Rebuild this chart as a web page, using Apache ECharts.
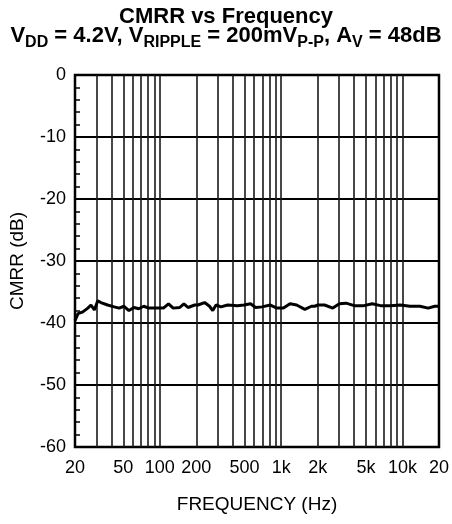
<!DOCTYPE html>
<html>
<head>
<meta charset="utf-8">
<script src="https://cdn.jsdelivr.net/npm/echarts@6/dist/echarts.min.js"></script>
<style>
html,body{margin:0;padding:0;background:#fff;}
#chart{width:452px;height:524px;}
</style>
</head>
<body>
<div id="chart"></div>
<script>
// Measured curve: frequency (Hz) and CMRR (dB)
var freqHz = [20, 21.2, 23.2, 25.5, 27.1, 28.9, 30.8, 32.7, 37.1, 42.1, 46.2, 50.7, 55.7, 61.2, 67.1, 73.7, 81, 91.6,
  107, 118, 129, 146, 158, 171, 182, 194, 206, 234, 257, 273, 291, 319, 362, 437, 494, 560, 615, 697, 815, 923,
  1045, 1184, 1342, 1568, 1778, 1890, 2011, 2280, 2664, 3020, 3424, 4000, 4820, 5632, 6592, 7944, 9580,
  11560, 13940, 16280, 18460, 20000];
var cmrrDb = [-39.6, -38.5, -38.2, -37.6, -37.1, -37.9, -36.4, -36.7, -37.1, -37.4, -37.6, -37.3, -38.0, -37.5, -37.7, -37.3, -37.6, -37.6,
  -37.6, -36.9, -37.6, -37.5, -36.9, -37.5, -37.3, -37.1, -37.1, -36.7, -37.3, -38.0, -37.1, -37.4, -37.1, -37.2, -37.1, -36.9, -37.5, -37.4, -37.1, -37.6,
  -37.6, -36.9, -37.1, -37.8, -37.3, -37.3, -37.1, -37.1, -37.6, -36.9, -36.8, -37.2, -37.2, -36.9, -37.2, -37.2, -37.1,
  -37.3, -37.3, -37.6, -37.3, -37.3];

// Axis ticks
var xTickValues = [20, 50, 100, 200, 500, 1000, 2000, 5000, 10000, 20000];
var xTickLabels = ['20', '50', '100', '200', '500', '1k', '2k', '5k', '10k', '20'];
var xGridValues = [30, 40, 50, 60, 70, 80, 90, 100, 200, 300, 400, 500, 600, 700, 800, 900, 1000,
  2000, 3000, 4000, 5000, 6000, 7000, 8000, 9000, 10000];
var yMin = -60, yMax = 0, yStep = 10;

var FONT = '"Liberation Sans", Arial, Helvetica, sans-serif';

var chart = echarts.init(document.getElementById('chart'), null, {renderer: 'canvas'});

var seriesData = freqHz.map(function (f, i) { return [f, cmrrDb[i]]; });

chart.setOption({
  animation: false,
  backgroundColor: '#ffffff',
  title: [{
    text: 'CMRR vs Frequency',
    left: 'center',
    top: 6,
    padding: 0,
    textStyle: {fontFamily: FONT, fontSize: 22, fontWeight: 'bold', color: '#000', lineHeight: 22}
  }, {
    text: '{m|V}{s|DD}{m| = 4.2V, V}{s|RIPPLE}{m| = 200mV}{s|P-P}{m|, A}{s|V}{m| = 48dB}',
    left: 'center',
    top: 25,
    padding: 0,
    textStyle: {
      fontFamily: FONT, fontSize: 22, fontWeight: 'bold', color: '#000',
      rich: {
        m: {fontFamily: FONT, fontSize: 22, fontWeight: 'bold', color: '#000', lineHeight: 22, verticalAlign: 'top'},
        s: {fontFamily: FONT, fontSize: 16, fontWeight: 'bold', color: '#000', lineHeight: 16, verticalAlign: 'top', padding: [10, 0, 0, 0]}
      }
    }
  }],
  grid: {
    left: 72, right: 11, top: 75, bottom: 77,
    show: true, borderColor: '#000', borderWidth: 2.5, backgroundColor: 'transparent'
  },
  xAxis: {
    type: 'log',
    logBase: 10,
    min: 20,
    max: 20000,
    name: 'FREQUENCY (Hz)',
    nameLocation: 'middle',
    nameGap: 48,
    nameTextStyle: {fontFamily: FONT, fontSize: 19, color: '#000'},
    axisLine: {show: false},
    axisTick: {show: false, customValues: xGridValues},
    axisLabel: {
      show: true,
      customValues: xTickValues,
      margin: 12,
      fontFamily: FONT, fontSize: 18, color: '#000',
      formatter: function (v) {
        for (var i = 0; i < xTickValues.length; i++) {
          if (Math.abs(xTickValues[i] - v) / xTickValues[i] < 1e-3) return xTickLabels[i];
        }
        return '';
      }
    },
    splitLine: {show: true, lineStyle: {color: '#1a1a1a', width: 1.6}},
    minorSplitLine: {show: false}
  },
  yAxis: {
    type: 'value',
    min: yMin,
    max: yMax,
    interval: yStep,
    name: 'CMRR (dB)',
    nameLocation: 'middle',
    nameGap: 48,
    nameTextStyle: {fontFamily: FONT, fontSize: 19, color: '#000'},
    axisLine: {show: false},
    axisTick: {show: false, inside: true},
    minorTick: {show: true, splitNumber: 5, length: 5, lineStyle: {color: '#000', width: 1.5}},
    axisLabel: {margin: 9, fontFamily: FONT, fontSize: 18, color: '#000'},
    splitLine: {show: true, lineStyle: {color: '#000', width: 2}}
  },
  series: [{
    type: 'line',
    data: seriesData,
    showSymbol: false,
    symbol: 'none',
    smooth: false,
    lineStyle: {color: '#000', width: 3},
    z: 5
  }]
});
</script>
</body>
</html>
